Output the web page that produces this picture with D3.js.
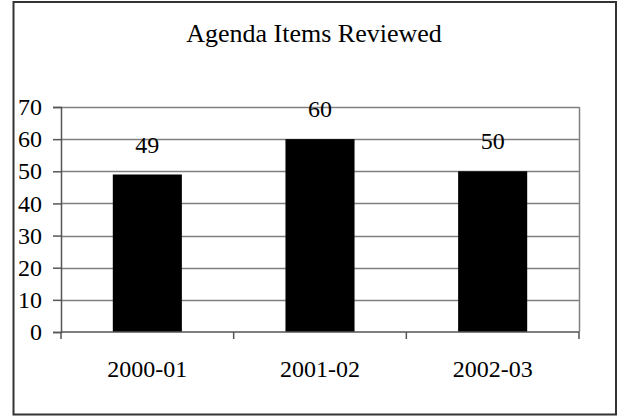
<!DOCTYPE html>
<html>
<head>
<meta charset="utf-8">
<script src="https://cdn.jsdelivr.net/npm/d3@7"></script>
<style>
  body { margin: 0; background: #fff; }
</style>
</head>
<body>
<div class="stage"></div>
<script>
var categories = ["2000-01", "2001-02", "2002-03"];
var values = [49, 60, 50];
var yTicks = [0, 10, 20, 30, 40, 50, 60, 70];
var title = "Agenda Items Reviewed";

var width = 618, height = 416;
var plot = { left: 61, right: 579, top: 107, bottom: 332 };
var serif = "'Liberation Serif', 'Times New Roman', serif";

var svg = d3.select(".stage")
  .append("svg")
  .attr("width", width)
  .attr("height", height)
  .style("font-family", serif);

// outer chart border
svg.append("rect")
  .attr("x", 13.5)
  .attr("y", 2)
  .attr("width", 602.5)
  .attr("height", 412.5)
  .attr("fill", "none")
  .attr("stroke", "#333")
  .attr("stroke-width", 2);

svg.append("text")
  .attr("x", 314)
  .attr("y", 42)
  .attr("text-anchor", "middle")
  .style("font-family", serif)
  .style("font-size", "26px")
  .text(title);

var x = d3.scaleBand()
  .domain(categories)
  .range([plot.left, plot.right])
  .padding(0);

var y = d3.scaleLinear()
  .domain([0, 70])
  .range([plot.bottom, plot.top]);

// gridlines
svg.append("g")
  .selectAll("line")
  .data(yTicks.slice(1))
  .join("line")
  .attr("x1", plot.left)
  .attr("x2", plot.right)
  .attr("y1", function(d){ return Math.round(y(d)) + 0.5 })
  .attr("y2", function(d){ return Math.round(y(d)) + 0.5 })
  .attr("stroke", "#808080")
  .attr("stroke-width", 1.5);

// right edge of plot area
svg.append("line")
  .attr("x1", plot.right + 0.5)
  .attr("x2", plot.right + 0.5)
  .attr("y1", y(70))
  .attr("y2", plot.bottom)
  .attr("stroke", "#808080")
  .attr("stroke-width", 1.5);

// bars
var bw = x.bandwidth() * 0.4;
svg.append("g")
  .selectAll("rect")
  .data(values)
  .join("rect")
  .attr("x", function(d, i){ return x(categories[i]) + (x.bandwidth() - bw) / 2 })
  .attr("y", function(d){ return y(d) })
  .attr("width", bw)
  .attr("height", function(d){ return y(0) - y(d) })
  .attr("fill", "#000");

// value labels
svg.append("g")
  .selectAll("text")
  .data(values)
  .join("text")
  .attr("x", function(d, i){ return x(categories[i]) + x.bandwidth() / 2 })
  .attr("y", function(d){ return y(d) - 22 })
  .attr("text-anchor", "middle")
  .style("font-family", serif)
  .style("font-size", "24px")
  .text(function(d){ return d });

// y axis
var yAxis = svg.append("g")
  .attr("transform", "translate(" + plot.left + ",0)")
  .call(d3.axisLeft(y).tickValues(yTicks).tickSize(8).tickPadding(11));
yAxis.attr("font-family", null).attr("font-size", null);
yAxis.selectAll("text")
  .attr("fill", "#000")
  .style("font-family", serif)
  .style("font-size", "24px");
yAxis.selectAll("line, path").attr("stroke", "#555").attr("stroke-width", 1.5);

// x axis
var xAxis = svg.append("g")
  .attr("transform", "translate(0," + plot.bottom + ")");
xAxis.append("line")
  .attr("x1", plot.left)
  .attr("x2", plot.right)
  .attr("stroke", "#555")
  .attr("stroke-width", 1.5);
xAxis.selectAll("line.tick")
  .data(categories.concat([null]))
  .join("line")
  .attr("class", "tick")
  .attr("x1", function(d){ return d === null ? plot.right : x(d) })
  .attr("x2", function(d){ return d === null ? plot.right : x(d) })
  .attr("y1", 0)
  .attr("y2", 7)
  .attr("stroke", "#555")
  .attr("stroke-width", 1.5);
xAxis.selectAll("text")
  .data(categories)
  .join("text")
  .attr("x", function(d){ return x(d) + x.bandwidth() / 2 })
  .attr("y", 45)
  .attr("text-anchor", "middle")
  .style("font-family", serif)
  .style("font-size", "24px")
  .text(function(d){ return d });
</script>
</body>
</html>
